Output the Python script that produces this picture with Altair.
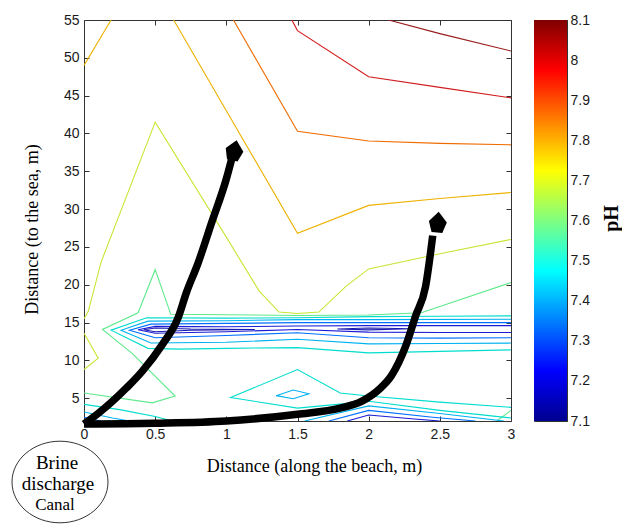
import altair as alt
import pandas as pd

# ---------------- axis ticks ----------------
x_ticks = [0, 0.5, 1, 1.5, 2, 2.5, 3]
y_ticks = [5, 10, 15, 20, 25, 30, 35, 40, 45, 50, 55]
cbar_ticks = [7.1, 7.2, 7.3, 7.4, 7.5, 7.6, 7.7, 7.8, 7.9, 8.0, 8.1]
cbar_range = [7.1, 8.1]

# ---------------- contour lines (pH level, x along beach [m], y to the sea [m]) ----------------
c807_x = [2.14, 2.5, 3.0]
c807_y = [55.0, 53.2, 50.9]
c800_x = [1.46, 1.5, 2.0, 2.5, 3.0]
c800_y = [55.0, 53.6, 47.5, 46.1, 44.7]
c790_x = [1.05, 1.5, 2.0, 2.5, 3.0]
c790_y = [55.0, 40.3, 39.0, 38.7, 38.5]
c780a_x = [0.63, 1.0, 1.5, 2.0, 2.5, 3.0]
c780a_y = [55.0, 43.0, 26.8, 30.5, 31.4, 32.2]
c780b_x = [0.0, 0.19]
c780b_y = [49.0, 55.0]
c770a_x = [0.0, 0.03, 0.12, 0.5, 1.0, 1.23, 1.37, 1.5, 1.65, 1.84, 2.0, 2.5, 3.0]
c770a_y = [15.5, 16.5, 23.0, 41.5, 26.3, 19.2, 16.4, 16.2, 16.4, 19.8, 22.1, 24.1, 26.0]
c770b_x = [0.0, 0.1, 0.0]
c770b_y = [13.6, 10.3, 8.8]
c760a_x = [0.0, 0.48, 0.64, 0.34, 0.13, 0.38, 0.5, 0.61, 1.0, 1.5, 2.0, 2.37, 3.0]
c760a_y = [5.7, 4.4, 5.3, 10.9, 14.1, 16.3, 22.0, 16.1, 16.05, 15.95, 16.0, 16.3, 20.3]
c760b_x = [2.9, 3.0]
c760b_y = [2.0, 3.4]
c750a_x = [3.0, 2.5, 2.0, 1.5, 1.0, 0.44, 0.19, 0.45, 0.67, 1.0, 1.5, 2.0, 2.5, 3.0]
c750a_y = [15.9, 15.85, 15.8, 15.65, 15.6, 15.65, 14.0, 11.6, 11.5, 11.6, 11.7, 11.0, 11.2, 11.4]
c750b_x = [3.0, 2.5, 2.0, 1.8, 1.5, 1.03, 1.5, 2.0, 2.5, 3.0]
c750b_y = [3.8, 4.5, 5.3, 5.7, 8.8, 5.1, 3.7, 4.6, 3.4, 2.4]
c750c_x = [0.0, 0.25, 0.5, 0.62]
c750c_y = [4.2, 3.5, 2.6, 2.0]
c740a_x = [3.0, 2.0, 1.5, 1.0, 0.45, 0.26, 0.47, 1.0, 1.5, 2.0, 2.5, 3.0]
c740a_y = [15.45, 15.4, 15.4, 15.25, 15.2, 14.0, 12.3, 12.4, 12.8, 12.2, 12.25, 12.3]
c740b_x = [1.35, 1.47, 1.58, 1.47, 1.35]
c740b_y = [5.35, 6.1, 5.6, 4.95, 5.35]
c740c_x = [1.55, 2.0, 2.5, 2.95]
c740c_y = [2.0, 4.0, 3.0, 2.0]
c740d_x = [0.0, 0.2, 0.32]
c740d_y = [3.2, 2.4, 2.0]
c730a_x = [3.0, 2.0, 1.5, 1.0, 0.47, 0.32, 0.5, 1.0, 1.5, 2.0, 2.5, 3.0]
c730a_y = [15.0, 15.0, 15.0, 14.9, 14.8, 14.0, 13.0, 13.3, 13.67, 13.0, 12.95, 13.0]
c730b_x = [1.72, 2.0, 2.45, 2.75]
c730b_y = [2.0, 3.4, 2.5, 2.0]
c730c_x = [0.0, 0.12]
c730c_y = [2.5, 2.0]
c720a_x = [3.0, 2.0, 1.5, 1.0, 0.5, 0.38, 0.5, 1.0, 1.5, 2.0, 2.5, 3.0]
c720a_y = [14.6, 14.6, 14.56, 14.45, 14.5, 14.05, 13.6, 13.8, 14.1, 13.75, 13.7, 13.7]
c720b_x = [1.85, 2.0, 2.3, 2.5]
c720b_y = [2.0, 2.8, 2.3, 2.0]
c715a_x = [0.42, 0.5, 0.75, 1.2, 0.75, 0.5, 0.42]
c715a_y = [14.05, 14.3, 14.15, 14.1, 14.0, 13.8, 14.05]
c715b_x = [1.78, 2.0, 2.3, 2.0, 1.78]
c715b_y = [14.15, 14.3, 14.2, 14.05, 14.15]

contour_lines = [
    ("c807", 8.07, c807_x, c807_y), ("c800", 8.0, c800_x, c800_y),
    ("c790", 7.9, c790_x, c790_y), ("c780a", 7.8, c780a_x, c780a_y),
    ("c780b", 7.8, c780b_x, c780b_y), ("c770a", 7.7, c770a_x, c770a_y),
    ("c770b", 7.7, c770b_x, c770b_y), ("c760a", 7.6, c760a_x, c760a_y),
    ("c760b", 7.6, c760b_x, c760b_y), ("c750a", 7.5, c750a_x, c750a_y),
    ("c750b", 7.5, c750b_x, c750b_y), ("c750c", 7.5, c750c_x, c750c_y),
    ("c740a", 7.4, c740a_x, c740a_y), ("c740b", 7.4, c740b_x, c740b_y),
    ("c740c", 7.4, c740c_x, c740c_y), ("c740d", 7.4, c740d_x, c740d_y),
    ("c730a", 7.3, c730a_x, c730a_y), ("c730b", 7.3, c730b_x, c730b_y),
    ("c730c", 7.3, c730c_x, c730c_y), ("c720a", 7.2, c720a_x, c720a_y),
    ("c720b", 7.2, c720b_x, c720b_y), ("c715a", 7.15, c715a_x, c715a_y),
    ("c715b", 7.15, c715b_x, c715b_y),
]

# ---------------- flow arrows ----------------
arrow1_x = [0.0, 0.1, 0.2, 0.3, 0.41, 0.55, 0.66, 0.72, 0.8, 0.9, 1.0, 1.04]
arrow1_y = [1.6, 3.0, 4.6, 6.4, 8.6, 12.1, 15.6, 19.0, 22.8, 28.4, 34.0, 36.8]
arrow2_x = [0.0, 0.5, 1.0, 1.5, 1.8, 1.95, 2.08, 2.16, 2.26, 2.33, 2.4, 2.45]
arrow2_y = [1.6, 1.7, 2.0, 2.9, 3.7, 4.6, 6.3, 8.0, 11.9, 15.9, 19.8, 26.5]
head_x = [1.055, 2.485]
head_y = [37.6, 28.1]
head_angle = [12, 5]

# ---------------- colour map (jet) ----------------
jet_domain = [7.1, 7.225, 7.475, 7.725, 7.975, 8.1]
jet_colors = ["#00008F", "#0000FF", "#00FFFF", "#FFFF00", "#FF0000", "#800000"]
line_colors = ["#1B1B8E", "#1B1BE7", "#1BD9D9", "#E2E21B", "#E71B1B", "#821B1B"]

# ---------------- tables ----------------
rows = []
for name, lev, xs, ys in contour_lines:
    for i, (xv, yv) in enumerate(zip(xs, ys)):
        rows.append({"line": name, "level": lev, "order": i, "x": xv, "y": yv})
cdf = pd.DataFrame(rows)

arows = []
for name, xs, ys in [("a1", arrow1_x, arrow1_y), ("a2", arrow2_x, arrow2_y)]:
    for i, (xv, yv) in enumerate(zip(xs, ys)):
        arows.append({"arrow": name, "order": i, "x": xv, "y": yv})
adf = pd.DataFrame(arows)
hdf = pd.DataFrame({"x": head_x, "y": head_y, "angle": head_angle})
one = pd.DataFrame({"k": [0]})

W, H = 427, 401
CBW = 33
SERIF = "Liberation Serif"
SANS = "Liberation Sans"
AX = "#333333"

xscale = alt.Scale(domain=[0, 3], nice=False, zero=False)
yscale = alt.Scale(domain=[2, 55], nice=False, zero=False)

contours = alt.Chart(cdf).mark_line(strokeWidth=1.1, clip=True).encode(
    x=alt.X("x:Q", scale=xscale, axis=alt.Axis(
        orient="bottom", values=x_ticks, format="~g", tickSize=0, domain=False, grid=False,
        labelPadding=6, labelFlush=False, labelOverlap=False, labelFont=SANS, labelFontSize=14,
        labelColor="#1a1a1a", title="Distance (along the beach, m)", titleFont=SERIF,
        titleFontSize=18, titleFontWeight="normal", titleColor="black", titleX=230, titleY=50,
        titleAlign="center", titleBaseline="alphabetic")),
    y=alt.Y("y:Q", scale=yscale, axis=alt.Axis(
        orient="left", values=y_ticks, tickSize=0, domain=False, grid=False,
        labelPadding=5, labelFlush=False, labelOverlap=False, labelFont=SANS, labelFontSize=14,
        labelColor="#1a1a1a", title="Distance (to the sea, m)", titleFont=SERIF,
        titleFontSize=18, titleFontWeight="normal", titleColor="black", titleAngle=270,
        titleX=-47, titleY=209, titleAlign="center", titleBaseline="alphabetic")),
    color=alt.Color("level:Q", scale=alt.Scale(domain=jet_domain, range=line_colors), legend=None),
    detail="line:N",
    order="order:Q",
)

arrows = alt.Chart(adf).mark_line(color="black", strokeWidth=7.5, interpolate="monotone").encode(
    x=alt.X("x:Q", scale=xscale, axis=alt.Axis(
        orient="top", offset=-H, values=x_ticks, labels=False, domain=False, grid=False,
        tickSize=5, tickColor=AX, title=None)),
    y=alt.Y("y:Q", scale=yscale, axis=alt.Axis(
        orient="right", offset=-W, values=y_ticks, labels=False, domain=False, grid=False,
        tickSize=5, tickColor=AX, title=None)),
    detail="arrow:N",
    order="order:Q",
)

HEAD = "M0,-1.3 L1,-0.2 L0.6,1 L-0.6,1 L-1,-0.2 Z"
heads = alt.Chart(hdf).mark_point(shape=HEAD, filled=True, color="black", opacity=1, size=324).encode(
    x=alt.X("x:Q", scale=xscale, axis=alt.Axis(
        orient="bottom", offset=-H, values=x_ticks, labels=False, domain=False, grid=False,
        tickSize=5, tickColor=AX, title=None)),
    y=alt.Y("y:Q", scale=yscale, axis=alt.Axis(
        orient="left", offset=-W, values=y_ticks, labels=False, domain=False, grid=False,
        tickSize=5, tickColor=AX, title=None)),
    angle=alt.Angle("angle:Q", scale=None),
)

k = 0.5523
ry = 0.85
ELL = (f"M-1,0 C-1,{-k*ry:.4f} {-k:.4f},{-ry} 0,{-ry} C{k:.4f},{-ry} 1,{-k*ry:.4f} 1,0 "
       f"C1,{k*ry:.4f} {k:.4f},{ry} 0,{ry} C{-k:.4f},{ry} -1,{k*ry:.4f} -1,0 Z")
ellipse = alt.Chart(one).mark_point(shape=ELL, filled=False, stroke="#333333", strokeWidth=1,
                                    size=96 * 96, opacity=1).encode(
    x=alt.value(-24), y=alt.value(462))
t1 = alt.Chart(one).mark_text(text="Brine", font=SERIF, fontSize=19, color="black",
                              align="center", baseline="alphabetic").encode(
    x=alt.value(-27), y=alt.value(449))
t2 = alt.Chart(one).mark_text(text="discharge", font=SERIF, fontSize=19, color="black",
                              align="center", baseline="alphabetic").encode(
    x=alt.value(-26), y=alt.value(470))
t3 = alt.Chart(one).mark_text(text="Canal", font=SERIF, fontSize=17, color="black",
                              align="center", baseline="alphabetic").encode(
    x=alt.value(-29), y=alt.value(490))

main = alt.layer(contours, arrows, heads, ellipse, t1, t2, t3).resolve_axis(
    x="independent", y="independent").properties(width=W, height=H)

# ---------------- colour bar ----------------
cb_df = pd.DataFrame({"lo": [cbar_range[0]], "hi": [cbar_range[1]], "xl": [0.0], "xr": [1.0]})
cb_scale = alt.Scale(domain=cbar_range, nice=False, zero=False)
cbx_scale = alt.Scale(domain=[0, 1], nice=False, zero=False)
grad = alt.Gradient(
    gradient="linear", x1=0, y1=1, x2=0, y2=0,
    stops=[alt.GradientStop(offset=o, color=c) for o, c in
           zip([0, 0.125, 0.375, 0.625, 0.875, 1.0], jet_colors)])
cbar = alt.Chart(cb_df).mark_rect(fill=grad, strokeWidth=0).encode(
    x=alt.X("xl:Q", scale=cbx_scale, axis=None), x2="xr:Q",
    y=alt.Y("lo:Q", scale=cb_scale, axis=alt.Axis(
        orient="right", values=cbar_ticks, format="~g", tickSize=0, domain=False, grid=False,
        labelPadding=3, labelFlush=False, labelOverlap=False, labelFont=SANS, labelFontSize=14,
        labelColor="#1a1a1a", title="pH", titleFont=SERIF, titleFontSize=20,
        titleFontWeight="bold", titleColor="black", titleAngle=270, titleX=50, titleY=198,
        titleAlign="center", titleBaseline="alphabetic")),
    y2="hi:Q",
)
cticks = alt.Chart(cb_df).mark_point(opacity=0).encode(
    x=alt.X("xl:Q", scale=cbx_scale, axis=None),
    y=alt.Y("lo:Q", scale=cb_scale, axis=alt.Axis(
        orient="left", offset=-CBW, values=cbar_ticks, labels=False, domain=False, grid=False,
        tickSize=5, tickColor=AX, title=None)),
)
colorbar = alt.layer(cbar, cticks).resolve_axis(y="independent").properties(width=CBW, height=H)

chart = alt.hconcat(main, colorbar, spacing=14).properties(
    padding={"left": 9, "top": 12, "right": 0, "bottom": 0},
    background="white",
).configure_view(stroke=AX, strokeWidth=1)

chart.save("out.html", embed_options={"renderer": "svg", "actions": False})
